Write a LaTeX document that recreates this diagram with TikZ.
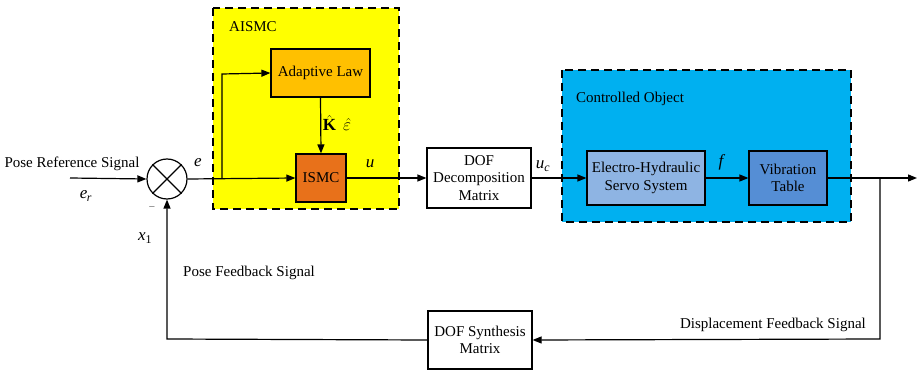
\documentclass[tikz,border=0pt]{standalone}
\usepackage{fontspec}
\setmainfont{Liberation Serif}
\usetikzlibrary{arrows.meta}
\definecolor{aisyel}{HTML}{FFFF00}
\definecolor{adaptc}{HTML}{FFC000}
\definecolor{ismcc}{HTML}{E8711A}
\definecolor{cobj}{HTML}{00B0F0}
\definecolor{ehc}{HTML}{8EB4E3}
\definecolor{vtc}{HTML}{558ED5}
\tikzset{
  blk/.style={draw, line width=1.2pt, align=center, inner sep=0pt, font=\fontsize{15}{17.5}\selectfont},
  grp/.style={draw, line width=1.8pt, dash pattern=on 8pt off 5pt},
  wire/.style={line width=1.2pt},
  arr/.style={wire, -{Triangle[length=9pt,width=7pt]}},
  lbl/.style={font=\fontsize{15}{17.5}\selectfont, inner sep=0pt},
  mlbl/.style={font=\fontsize{17}{19}\selectfont, inner sep=0pt},
}
\begin{document}
\begin{tikzpicture}[x=1pt,y=-1pt]
\useasboundingbox (0,0) rectangle (917,371);
% group boxes
\draw[grp, fill=aisyel] (213,8) rectangle (399,209);
\draw[grp, fill=cobj] (562,70) rectangle (851,222);
\node[lbl] (aisl) at (253,27) {AISMC};
\node[lbl] (col) at (630,99) {Controlled Object};
% blocks
\node[draw, circle, minimum size=40pt, line width=1.2pt, inner sep=0pt, fill=white] (sum) at (167,179) {};
\draw[wire] (sum.north west) -- (sum.south east) (sum.north east) -- (sum.south west);
\node[blk, fill=adaptc, minimum width=99pt, minimum height=48pt] (adapt) at (320.5,73) {Adaptive Law};
\node[blk, fill=ismcc, minimum width=50pt, minimum height=48pt] (ismc) at (321,178) {ISMC};
\node[blk, fill=white, minimum width=104pt, minimum height=60pt] (dofd) at (479,178) {DOF\\Decomposition\\Matrix};
\node[blk, fill=ehc, minimum width=118pt, minimum height=54pt] (eh) at (646,178) {Electro-Hydraulic\\Servo System};
\node[blk, fill=vtc, minimum width=78pt, minimum height=54pt] (vt) at (788,178) {Vibration\\Table};
\node[blk, fill=white, minimum width=104pt, minimum height=58pt] (dofs) at (480,340) {DOF Synthesis\\Matrix};
% coordinates
\coordinate (inp) at (70,178);
\coordinate (outp) at (917,178);
\coordinate (br) at (880,178);
\coordinate (brd) at (880,339);
\coordinate (fbl) at (167,339);
\coordinate (eb) at (222,178);
\coordinate (ebu) at (222,74);
% connectors
\draw[arr] (inp) -- (sum.west);
\draw[arr] (sum.east) -- (ismc.west);
\draw[arr] (eb) -- (ebu) -- (adapt.west);
\draw[arr] (adapt.south) -- (ismc.north);
\draw[arr] (ismc.east) -- (dofd.west);
\draw[arr] (dofd.east) -- (eh.west);
\draw[arr] (eh.east) -- (vt.west);
\draw[arr] (vt.east) -- (outp);
\draw[arr] (br) -- (brd) -- (dofs.east);
\draw[arr] (dofs.west) -- (fbl) -- (sum.south);
% labels
\node[lbl] (prs) at (72,164) {Pose Reference Signal};
\node[mlbl] (er) at (86,196) {\textit{e}\textsubscript{\kern-0.5pt\textit{r}}};
\node[lbl] (minus) at (152,208) {\raisebox{2pt}{\fontsize{9}{9}\selectfont$-$}};
\node[mlbl] (x1) at (145,238) {\textit{x}\textsubscript{1}};
\node[mlbl] (el) at (198,163) {\textit{e}};
\node[mlbl] (kel) at (337,123) {$\hat{\mathbf{K}}$\hspace{7pt}$\hat{\varepsilon}$};
\node[mlbl] (ul) at (370,164) {\textit{u}};
\node[mlbl] (ucl) at (543,166) {\textit{u}\textsubscript{\textit{c}}};
\node[mlbl] (fl) at (722,162) {\textit{f}};
\node[lbl] (pfs) at (249,273) {Pose Feedback Signal};
\node[lbl, anchor=east] (dfs) at (866,325) {Displacement Feedback Signal};
\end{tikzpicture}
\end{document}
